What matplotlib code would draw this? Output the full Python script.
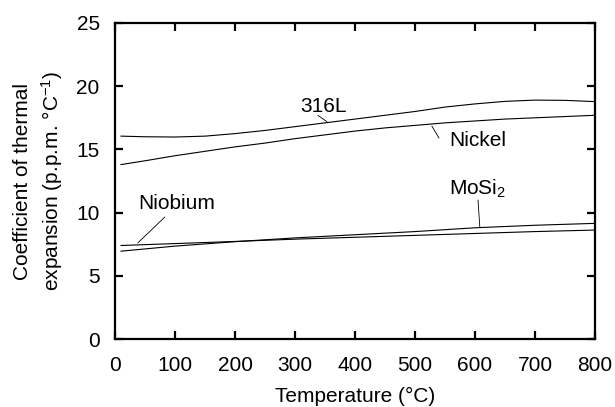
import matplotlib
matplotlib.use("Agg")
import matplotlib.pyplot as plt

plt.rcParams["font.family"] = ["Liberation Sans", "DejaVu Sans"]
plt.rcParams["mathtext.fontset"] = "custom"
plt.rcParams["mathtext.rm"] = "Liberation Sans"
plt.rcParams["mathtext.it"] = "Liberation Sans"

# values
temps = [10, 50, 100, 150, 200, 250, 300, 350, 400, 450, 500, 550, 600, 650, 700, 750, 800]
ss316l = [16.05, 16.0, 15.98, 16.05, 16.25, 16.5, 16.8, 17.1, 17.4, 17.7, 18.0, 18.35, 18.6, 18.8, 18.9, 18.88, 18.78]
nickel = [13.8, 14.1, 14.5, 14.85, 15.2, 15.5, 15.85, 16.15, 16.45, 16.7, 16.9, 17.1, 17.25, 17.4, 17.5, 17.6, 17.7]

temps2 = [10, 100, 200, 300, 400, 500, 600, 700, 800]
mosi2 = [6.95, 7.35, 7.7, 8.0, 8.25, 8.5, 8.8, 9.0, 9.15]
niobium = [7.4, 7.55, 7.72, 7.9, 8.05, 8.2, 8.35, 8.5, 8.62]

fs = 15

fig = plt.figure(figsize=(6.15, 4.07), dpi=100)
ax = fig.add_axes([0.187, 0.167, 0.7805, 0.7765])

lw = 0.8
ax.plot(temps, ss316l, color="black", lw=lw)
ax.plot(temps, nickel, color="black", lw=lw)
ax.plot(temps2, mosi2, color="black", lw=lw)
ax.plot(temps2, niobium, color="black", lw=lw)

ax.set_xlim(0, 800)
ax.set_ylim(0, 25)
ax.set_xticks(range(0, 801, 100))
ax.set_yticks(range(0, 26, 5))

for s in ax.spines.values():
    s.set_linewidth(1.6)
ax.tick_params(direction="in", length=6, width=1.6, labelsize=fs,
               top=True, right=True)
ax.tick_params(axis="x", pad=12)
ax.tick_params(axis="y", pad=11)

ax.set_xlabel("Temperature (°C)", fontsize=fs, labelpad=9)
ax.set_ylabel("Coefficient of thermal\nexpansion (p.p.m. °C$^{-1}$)", fontsize=fs,
              labelpad=8, linespacing=1.35)

lead = dict(arrowstyle="-", color="black", lw=0.6, shrinkA=0, shrinkB=0)
ax.text(348, 18.4, "316L", fontsize=fs, ha="center", va="center")
ax.annotate("", xy=(353, 17.2), xytext=(338, 17.7), arrowprops=lead)
ax.text(605, 15.7, "Nickel", fontsize=fs, ha="center", va="center")
ax.annotate("", xy=(540, 15.9), xytext=(528, 16.85), arrowprops=lead)
ax.text(605, 11.9, "MoSi$_2$", fontsize=fs, ha="center", va="center")
ax.annotate("", xy=(608, 8.86), xytext=(605, 11.0), arrowprops=lead)
ax.text(103, 10.76, "Niobium", fontsize=fs, ha="center", va="center")
ax.annotate("", xy=(38, 7.6), xytext=(83, 9.65), arrowprops=lead)

fig.savefig("out.png", dpi=100)
